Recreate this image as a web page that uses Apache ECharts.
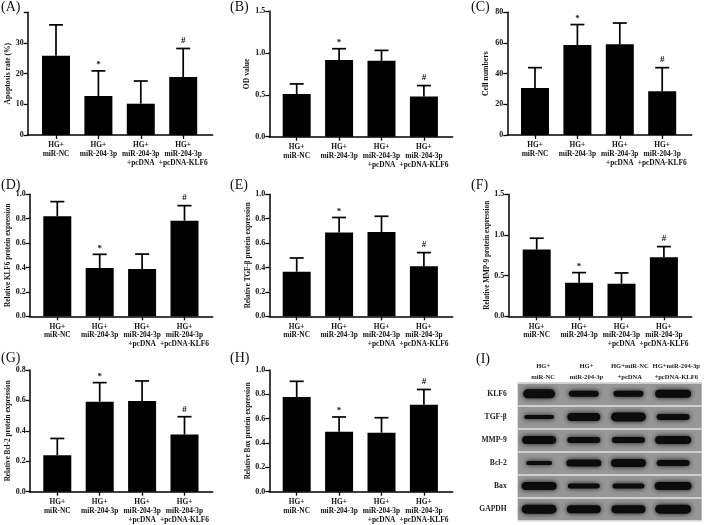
<!DOCTYPE html>
<html>
<head>
<meta charset="utf-8">
<title>Panels A-I</title>
<script src="https://cdn.jsdelivr.net/npm/echarts@6/dist/echarts.min.js"></script>
<style>
  html, body { margin: 0; padding: 0; background: #ffffff; }
  #chart { width: 709px; height: 525px; }
</style>
</head>
<body>
<div id="chart"></div>
<script>
// x axis groups, same for every bar panel
const groupLabels = ['HG+\nmiR-NC', 'HG+\nmiR-204-3p', 'HG+\nmiR-204-3p\n+pcDNA', 'HG+\nmiR-204-3p\n+pcDNA-KLF6'];
const signs = ['', '*', '', '#'];

// bar heights and top of the error bars
const apoptosisBars = [25.8, 12.7, 10.2, 18.9];
const apoptosisTops = [35.9, 20.9, 17.6, 28.2];
const odBars = [0.51, 0.915, 0.905, 0.48];
const odTops = [0.63, 1.05, 1.03, 0.61];
const cellBars = [30.7, 58.7, 59.1, 28.5];
const cellTops = [43.9, 72, 73, 43.9];
const klf6Bars = [0.82, 0.396, 0.388, 0.784];
const klf6Tops = [0.94, 0.508, 0.51, 0.907];
const tgfBars = [0.366, 0.686, 0.691, 0.41];
const tgfTops = [0.478, 0.81, 0.82, 0.522];
const mmpBars = [0.82, 0.414, 0.40, 0.725];
const mmpTops = [0.96, 0.537, 0.533, 0.857];
const bclBars = [0.24, 0.592, 0.597, 0.376];
const bclTops = [0.35, 0.717, 0.728, 0.493];
const baxBars = [0.778, 0.493, 0.485, 0.715];
const baxTops = [0.907, 0.614, 0.608, 0.84];

// y ticks
const ticks40 = [0, 10, 20, 30, 40];
const labels40 = ['0', '10', '20', '30'];
const ticks80 = [0, 20, 40, 60, 80];
const labels80 = ['0', '20', '40', '60', '80'];
const ticks15 = [0, 0.5, 1, 1.5];
const labels15 = ['0.0', '0.5', '1.0', '1.5'];
const ticks10 = [0, 0.2, 0.4, 0.6, 0.8, 1];
const labels10 = ['0.0', '0.2', '0.4', '0.6', '0.8', '1.0'];
const ticks08 = [0, 0.2, 0.4, 0.6, 0.8];
const labels08 = ['0.0', '0.2', '0.4', '0.6', '0.8'];

// western blot, band thickness and width per lane
const blotRows = ['KLF6', 'TGF-β', 'MMP-9', 'Bcl-2', 'Bax', 'GAPDH'];
const blotLanes = ['HG+\nmiR-NC', 'HG+\nmiR-204-3p', 'HG+miR-NC\n+pcDNA', 'HG+miR-204-3p\n+pcDNA-KLF6'];
const klf6Band = [9, 6, 6, 8];
const tgfBand = [4, 8, 9, 6];
const mmpBand = [8, 6, 6, 8];
const bclBand = [4, 7, 8, 6];
const baxBand = [8, 5, 5, 8];
const gapdhBand = [9, 8, 8, 9];
const klf6Width = [32, 30, 30, 36];
const tgfWidth = [30, 33, 35, 33];
const mmpWidth = [34, 33, 33, 36];
const bclWidth = [26, 35, 35, 33];
const baxWidth = [35, 32, 32, 37];
const gapdhWidth = [35, 34, 34, 36];

const serif = '"Liberation Serif", "Times New Roman", serif';

const panels = [
  { tag: '(A)', tagX: 1, tagY: 0, name: 'Apoptosis rate (%)', nameSize: 7.6, bars: apoptosisBars, tops: apoptosisTops, ticks: ticks40, labels: labels40, max: 40,
    left: 27.7, right: 212.7, top: 12.3, bottom: 135, first: 56, gap: 16 },
  { tag: '(B)', tagX: 230, tagY: 0, name: 'OD value', nameSize: 7.6, bars: odBars, tops: odTops, ticks: ticks15, labels: labels15, max: 1.5,
    left: 269.3, right: 452.7, top: 11, bottom: 136.7, first: 296.7, gap: 17 },
  { tag: '(C)', tagX: 471, tagY: 0, name: 'Cell numbers', nameSize: 7.8, bars: cellBars, tops: cellTops, ticks: ticks80, labels: labels80, max: 80,
    left: 507.3, right: 691.7, top: 12.3, bottom: 135, first: 535, gap: 17 },
  { tag: '(D)', tagX: 1, tagY: 178, name: 'Relative KLF6 protein expression', nameSize: 7.2, bars: klf6Bars, tops: klf6Tops, ticks: ticks10, labels: labels10, max: 1,
    left: 29.7, right: 212.7, top: 194.3, bottom: 316.3, first: 57.3, gap: 18 },
  { tag: '(E)', tagX: 230, tagY: 178, name: 'Relative TGF-β protein expression', nameSize: 7.2, bars: tgfBars, tops: tgfTops, ticks: ticks10, labels: labels10, max: 1,
    left: 269.3, right: 452.7, top: 194.3, bottom: 316.3, first: 296.7, gap: 17 },
  { tag: '(F)', tagX: 471, tagY: 178, name: 'Relative MMP-9 protein expression', nameSize: 7.2, bars: mmpBars, tops: mmpTops, ticks: ticks15, labels: labels15, max: 1.5,
    left: 508.3, right: 691.7, top: 194.3, bottom: 316.3, first: 536.7, gap: 18 },
  { tag: '(G)', tagX: 1, tagY: 351, name: 'Relative Bcl-2 protein expression', nameSize: 7.2, bars: bclBars, tops: bclTops, ticks: ticks08, labels: labels08, max: 0.8,
    left: 29.7, right: 212.7, top: 370, bottom: 491.7, first: 57.3, gap: 18 },
  { tag: '(H)', tagX: 230, tagY: 351, name: 'Relative Bax protein expression', nameSize: 7.2, bars: baxBars, tops: baxTops, ticks: ticks10, labels: labels10, max: 1,
    left: 269.3, right: 452.7, top: 370, bottom: 491.7, first: 296.7, gap: 17 },
];

const spacing = 42.4; // px between bars

const option = {
  animation: false,
  backgroundColor: '#ffffff',
  title: [],
  grid: [],
  xAxis: [],
  yAxis: [],
  series: [],
};

function addTag(text, x, y) {
  option.title.push({
    text: text, left: x, top: y, padding: 0,
    textStyle: { fontFamily: serif, fontSize: 14, fontWeight: 'normal', color: '#111' },
  });
}

panels.forEach((p, idx) => {
  addTag(p.tag, p.tagX, p.tagY);
  option.grid.push({ left: p.left, top: p.top, width: p.right - p.left, height: p.bottom - p.top });
  const xMax = (p.right - p.first) / spacing;
  option.xAxis.push({
    type: 'value',
    gridIndex: idx,
    min: (p.left - p.first) / spacing,
    max: xMax,
    splitLine: { show: false },
    axisLine: { show: true, onZero: false, lineStyle: { color: '#000', width: 1.5 } },
    axisTick: { show: true, length: 4, customValues: [0, 1, 2, 3], lineStyle: { color: '#000', width: 1.3 } },
    axisLabel: {
      // blank end label: the min/max overlap check drops that one, not the wide KLF6 label
      customValues: [0, 1, 2, 3, xMax],
      formatter: (v) => groupLabels[v] || ' ',
      fontFamily: serif, fontWeight: 'bold', fontSize: 7.4, lineHeight: 8.8, color: '#111', margin: 6,
    },
  });
  option.yAxis.push({
    type: 'value',
    gridIndex: idx,
    min: 0,
    max: p.max,
    name: p.name,
    nameLocation: 'middle',
    nameRotate: 90,
    nameGap: p.gap,
    nameTextStyle: { fontFamily: serif, fontWeight: 'bold', fontSize: p.nameSize, color: '#111' },
    splitLine: { show: false },
    axisLine: { show: true, onZero: false, lineStyle: { color: '#000', width: 1.5 } },
    axisTick: { show: true, length: 4, customValues: p.ticks, lineStyle: { color: '#000', width: 1.3 } },
    axisLabel: {
      customValues: p.ticks.slice(0, p.labels.length),
      formatter: (v) => p.labels[p.ticks.indexOf(v)],
      fontFamily: serif, fontWeight: 'bold', fontSize: 8, color: '#111', margin: 4,
    },
  });
  option.series.push({
    type: 'bar',
    xAxisIndex: idx,
    yAxisIndex: idx,
    barWidth: 28,
    itemStyle: { color: '#000' },
    data: p.bars.map((v, i) => [i, v]),
  });
  // error bar with its cap and the * / # sign
  option.series.push({
    type: 'custom',
    xAxisIndex: idx,
    yAxisIndex: idx,
    clip: false,
    data: p.tops.map((v, i) => [i, v, p.bars[i]]),
    renderItem: (params, api) => {
      const top = api.coord([api.value(0), api.value(1)]);
      const base = api.coord([api.value(0), api.value(2)]);
      const line = { stroke: '#000', lineWidth: 1.7 };
      const children = [
        { type: 'line', shape: { x1: top[0], y1: top[1], x2: base[0], y2: base[1] }, style: line },
        { type: 'line', shape: { x1: top[0] - 7, y1: top[1], x2: top[0] + 7, y2: top[1] }, style: line },
      ];
      const sign = signs[params.dataIndex];
      if (sign) {
        children.push({
          type: 'text',
          x: top[0], y: top[1] - (sign === '*' ? 6 : 7.5),
          style: { text: sign, fontFamily: serif, fontWeight: 'bold', fontSize: 9, fill: '#111', align: 'center', verticalAlign: 'middle' },
        });
      }
      return { type: 'group', children: children };
    },
  });
});

// blot panel (I)
addTag('(I)', 476, 352);
const blotIdx = panels.length;
const blotBands = [klf6Band, tgfBand, mmpBand, bclBand, baxBand, gapdhBand];
const blotWidths = [klf6Width, tgfWidth, mmpWidth, bclWidth, baxWidth, gapdhWidth];
const blotData = [];
blotBands.forEach((row, r) => row.forEach((t, lane) => blotData.push([lane, r, t, blotWidths[r][lane]])));

option.grid.push({ left: 517.7, top: 382.3, width: 184, height: 138.4, show: true, backgroundColor: '#979797', borderWidth: 0 });
option.xAxis.push({
  type: 'value',
  gridIndex: blotIdx,
  position: 'top',
  min: -0.48,
  max: 3.64,
  splitLine: { show: false },
  axisLine: { show: false },
  axisTick: { show: false },
  axisLabel: {
    customValues: [0.09, 1.06, 2.03, 3.07, 3.64],
    formatter: (v) => (v > 3.5 ? ' ' : blotLanes[Math.round(v)]),
    fontFamily: serif, fontWeight: 'bold', fontSize: 6.6, lineHeight: 10.5, color: '#222', margin: 0,
  },
});
option.yAxis.push({
  type: 'category',
  gridIndex: blotIdx,
  inverse: true,
  data: blotRows,
  splitLine: { show: true, lineStyle: { color: '#e2e2e2', width: 1.5 } },
  axisLine: { show: false },
  axisTick: { show: false },
  axisLabel: { fontFamily: serif, fontWeight: 'bold', fontSize: 7.6, color: '#222', margin: 11 },
});
option.series.push({
  type: 'custom',
  xAxisIndex: blotIdx,
  yAxisIndex: blotIdx,
  data: blotData,
  renderItem: (params, api) => {
    const c = api.coord([api.value(0), api.value(1)]);
    const h = api.value(2);
    const w = api.value(3);
    return {
      type: 'rect',
      shape: { x: c[0] - w / 2, y: c[1] - h / 2, width: w, height: h, r: h / 2 },
      style: { fill: '#0c0c0c', shadowBlur: 5, shadowColor: '#111' },
    };
  },
});

const myChart = echarts.init(document.getElementById('chart'), null, { renderer: 'canvas' });
myChart.setOption(option);
</script>
</body>
</html>
